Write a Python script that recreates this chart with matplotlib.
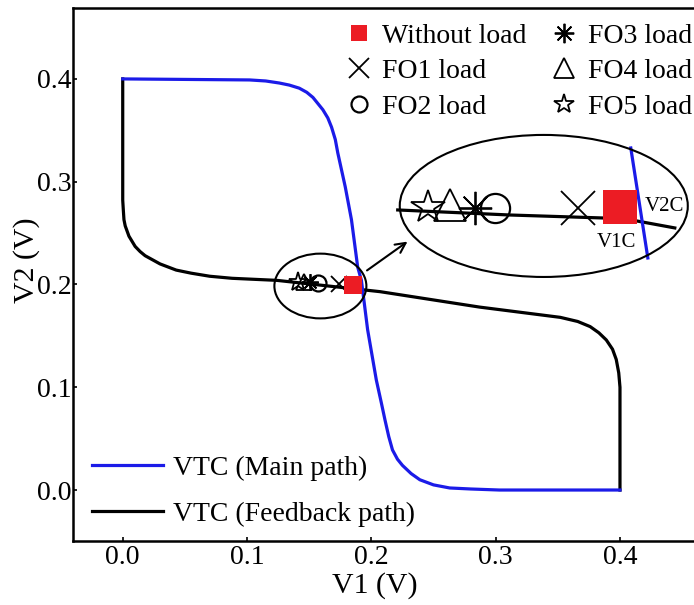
import matplotlib.pyplot as plt
from matplotlib.patches import Ellipse
from matplotlib.lines import Line2D

plt.rcParams['font.family'] = ['Liberation Serif', 'DejaVu Serif']

# VTC curves (V1, V2)
main_v1 = [0.0, 0.102, 0.115, 0.126, 0.134, 0.142, 0.148, 0.153, 0.157, 0.161,
           0.165, 0.168, 0.171, 0.173, 0.179, 0.184, 0.189, 0.192, 0.197, 0.204,
           0.208, 0.211, 0.214, 0.217, 0.221, 0.225, 0.232, 0.239, 0.250, 0.263,
           0.280, 0.303, 0.4]
main_v2 = [0.4, 0.399, 0.398, 0.396, 0.394, 0.391, 0.387, 0.382, 0.376, 0.370,
           0.362, 0.353, 0.341, 0.328, 0.295, 0.263, 0.217, 0.204, 0.156, 0.107,
           0.085, 0.068, 0.052, 0.039, 0.030, 0.024, 0.016, 0.010, 0.005, 0.002,
           0.001, 0.0, 0.0]

fb_v1 = [0.0, 0.0, 0.0005, 0.001, 0.002, 0.005, 0.007, 0.010, 0.014, 0.018, 0.024,
         0.030, 0.043, 0.055, 0.070, 0.088, 0.124, 0.207, 0.287, 0.352, 0.366,
         0.376, 0.383, 0.389, 0.394, 0.397, 0.399, 0.4, 0.4]
fb_v2 = [0.4, 0.282, 0.272, 0.263, 0.257, 0.247, 0.243, 0.237, 0.232, 0.228, 0.224,
         0.220, 0.214, 0.211, 0.208, 0.206, 0.204, 0.193, 0.178, 0.168, 0.164,
         0.159, 0.153, 0.146, 0.137, 0.127, 0.114, 0.100, 0.0]

# operating points under each load
load_names = ['Without load', 'FO1 load', 'FO2 load', 'FO3 load', 'FO4 load', 'FO5 load']
load_v1 = [0.185, 0.174, 0.157, 0.151, 0.146, 0.141]
load_v2 = [0.199, 0.200, 0.201, 0.202, 0.202, 0.202]

# zoomed view of the same points
zoom_v1 = [0.400, 0.366, 0.2993, 0.2832, 0.2631, 0.2454]
zoom_v2 = [0.2754, 0.2745, 0.2745, 0.2745, 0.2774, 0.2754]
zoom_fb_v1 = [0.2212, 0.3113, 0.3862, 0.4135, 0.4441]
zoom_fb_v2 = [0.2725, 0.2676, 0.2647, 0.2618, 0.2550]
zoom_main_v1 = [0.4087, 0.4224]
zoom_main_v2 = [0.3328, 0.2258]

blue = '#1b1be8'
red = '#ec1c24'

styles = [
    dict(marker='s', mfc=red, mec=red, mew=0),
    dict(marker='x', mfc='none', mec='k', mew=1.3),
    dict(marker='o', mfc='none', mec='k', mew=1.6),
    dict(marker=(8, 2, 0), mfc='none', mec='k', mew=1.3),
    dict(marker='^', mfc='none', mec='k', mew=1.3),
    dict(marker='*', mfc='none', mec='k', mew=1.3),
]
small_ms = [13.5, 12, 11.5, 12, 12, 14]
big_ms = [24, 24, 21, 24, 23, 25]
leg_ms = [12, 14, 11.5, 14, 15, 15]

fig = plt.figure(figsize=(6.94, 6.05), dpi=100)
ax = fig.add_axes([73 / 694, 64 / 605, 634 / 694, 533 / 605])

l_main, = ax.plot(main_v1, main_v2, color=blue, lw=2.3, solid_joinstyle='round', zorder=3)
l_fb, = ax.plot(fb_v1, fb_v2, color='k', lw=2.3, solid_joinstyle='round', zorder=2)

# small ellipse around the crossing and the magnified ellipse
ax.add_patch(Ellipse((0.159, 0.1985), 0.074, 0.063, fill=False, ec='k', lw=1.5, zorder=4))
ax.add_patch(Ellipse((0.3387, 0.2764), 0.2317, 0.1382, fill=False, ec='k', lw=1.5, zorder=4))
ax.annotate('', xy=(0.2309, 0.2433), xytext=(0.1947, 0.2121),
            arrowprops=dict(arrowstyle='->', color='k', lw=1.5, mutation_scale=18))

ax.plot(zoom_fb_v1, zoom_fb_v2, color='k', lw=2.3, zorder=2)
ax.plot(zoom_main_v1, zoom_main_v2, color=blue, lw=2.3, zorder=3)

for i in range(len(load_names) - 1, -1, -1):
    ax.plot(load_v1[i], load_v2[i], ls='none', ms=small_ms[i], zorder=5, **styles[i])
    ax.plot(zoom_v1[i], zoom_v2[i], ls='none', ms=big_ms[i], zorder=5, **styles[i])

ax.text(0.436, 0.2754, 'V2C', fontsize=15, ha='center', va='center', zorder=6)
ax.text(0.3974, 0.2404, 'V1C', fontsize=15, ha='center', va='center', zorder=6)

ax.set_xlim(-0.04, 0.47)
ax.set_ylim(-0.0496, 0.469)
ax.set_xticks([0.0, 0.1, 0.2, 0.3, 0.4])
ax.set_yticks([0.0, 0.1, 0.2, 0.3, 0.4])
ax.set_xticklabels(['0.0', '0.1', '0.2', '0.3', '0.4'])
ax.set_yticklabels(['0.0', '0.1', '0.2', '0.3', '0.4'])
ax.tick_params(direction='in', length=3, width=1.2, labelsize=20)
ax.tick_params(axis='x', pad=3)
ax.tick_params(axis='y', pad=1)
for s in ax.spines.values():
    s.set_linewidth(1.8)

ax.set_xlabel('V1 (V)', fontsize=21.5)
ax.set_ylabel('V2 (V)', fontsize=21.5)
ax.xaxis.set_label_coords(0.476, -0.058)
ax.yaxis.set_label_coords(-0.052, 0.527)

leg1 = ax.legend([l_main, l_fb], ['VTC (Main path)', 'VTC (Feedback path)'],
                 loc='lower left', bbox_to_anchor=(0.008, 0.0), frameon=False,
                 fontsize=20, handlelength=2.55, handletextpad=0.35,
                 labelspacing=0.75, borderaxespad=0.1)
ax.add_artist(leg1)

handles = [Line2D([], [], ls='none', ms=leg_ms[i], **styles[i]) for i in range(len(load_names))]
ax.legend(handles, load_names,
          loc='upper right', bbox_to_anchor=(1.0, 1.0), ncol=2, frameon=False,
          fontsize=20, handlelength=0.9, handletextpad=0.4, columnspacing=0.9,
          labelspacing=0.36, borderaxespad=0.15)

fig.savefig('out.png', dpi=100)
